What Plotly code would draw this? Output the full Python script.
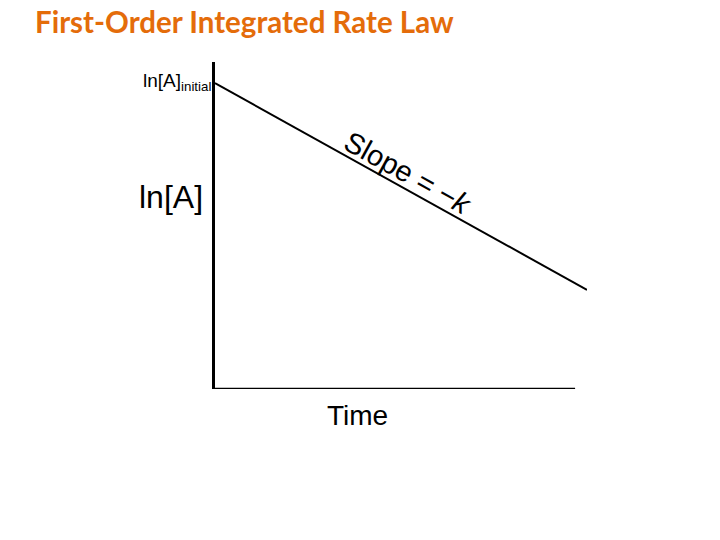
import plotly.graph_objects as go

# data (arbitrary units)
time = [0, 10]
ln_a = [10.0, 3.24]
time_axis_end = 9.68
ln_axis_top = 10.69

title_text = "First-Order Integrated Rate Law"
slope_label = "Slope = \u2212<i>k</i>"

# page body adds an 8px offset; compensate
OFF = 8

fig = go.Figure()
fig.add_trace(go.Scatter(x=time, y=ln_a, mode="lines",
                         line=dict(color="black", width=2), hoverinfo="skip",
                         showlegend=False))

# x axis line (ends before the data line does)
fig.add_shape(type="line", xref="x", yref="y", x0=0, x1=time_axis_end, y0=0, y1=0,
              line=dict(color="black", width=2.5))

font_main = "Liberation Sans, Arial, sans-serif"
fig.add_annotation(x=0, y=ln_a[0], xref="x", yref="y", xanchor="right", yanchor="middle",
                   xshift=-2, yshift=1, showarrow=False,
                   text="ln[A]<sub>initial</sub>",
                   font=dict(family=font_main, size=19, color="black"))
fig.add_annotation(x=0, y=6.27, xref="x", yref="y", xanchor="right", yanchor="middle",
                   xshift=-10, showarrow=False, text="ln[A]",
                   font=dict(family=font_main, size=32, color="black"))
fig.add_annotation(x=3.82, y=0, xref="x", yref="y", xanchor="center", yanchor="middle",
                   yshift=-26, showarrow=False, text="Time",
                   font=dict(family=font_main, size=28, color="black"))
fig.add_annotation(x=5.18, y=7.07, xref="x", yref="y", xanchor="center", yanchor="middle",
                   textangle=29, showarrow=False, text=slope_label,
                   font=dict(family=font_main, size=29, color="black"))

fig.update_layout(
    width=720, height=540,
    margin=dict(l=215 - OFF, r=133 + OFF, t=62 - OFF, b=151 + OFF),
    paper_bgcolor="white", plot_bgcolor="white",
    title=dict(text="<b>" + title_text + "</b>", x=(35 - OFF) / 720, xanchor="left",
               y=1 - (23 - OFF) / 540, yanchor="middle",
               font=dict(family="Lato, sans-serif", size=29.5, color="#E46C0A")),
    xaxis=dict(range=[0, 10], showgrid=False, zeroline=False, showticklabels=False,
               ticks="", showline=False),
    yaxis=dict(range=[0, ln_axis_top], showgrid=False, zeroline=False,
               showticklabels=False, ticks="", showline=True, linecolor="black",
               linewidth=2.5, mirror=False),
)

fig.write_html("out.html")
